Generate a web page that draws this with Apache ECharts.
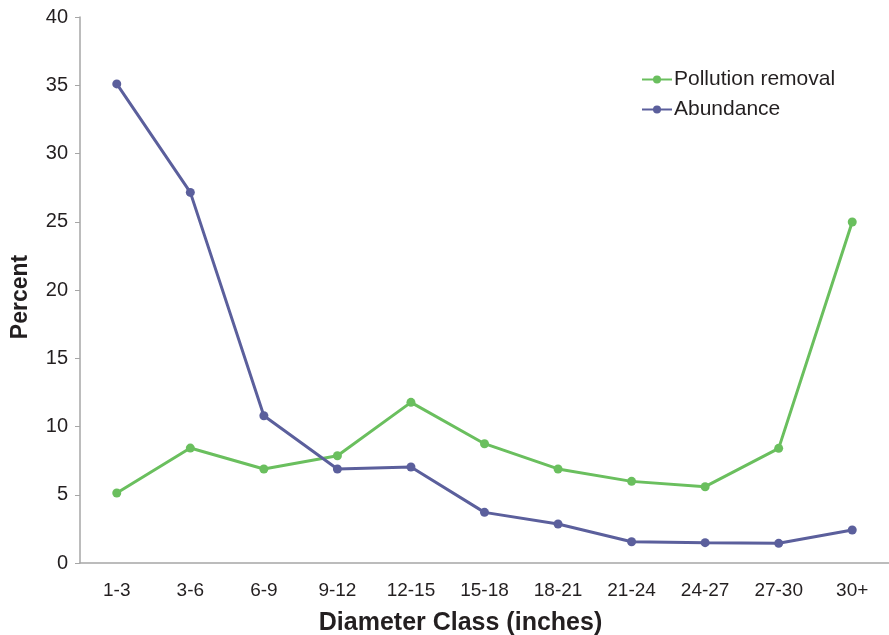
<!DOCTYPE html>
<html lang="en">

<head>
    <meta charset="UTF-8">
    <title>Diameter Class - Pollution removal and Abundance</title>
    <script src="https://cdn.jsdelivr.net/npm/echarts@6.0.0/dist/echarts.min.js"></script>
    <style>
        body { margin: 0; background: #fff; }
    </style>
</head>

<body>
    <div id="main" style="width: 889px; height: 635px;"></div>

    <script type="text/javascript">
        // Chart data
        const categories = ['1-3', '3-6', '6-9', '9-12', '12-15', '15-18', '18-21', '21-24', '24-27', '27-30', '30+'];
        const pollutionRemoval = [5.13, 8.42, 6.89, 7.86, 11.77, 8.74, 6.89, 5.98, 5.59, 8.40, 24.98];
        const abundance = [35.1, 27.15, 10.79, 6.89, 7.03, 3.71, 2.86, 1.56, 1.49, 1.44, 2.42];

        const green = '#6abf5e';
        const blue = '#5b5f9c';
        const axisGrey = '#a6a6a6';
        const textColor = '#231f20';
        const font = "'Liberation Sans', Arial, sans-serif";

        let myChart = echarts.init(document.getElementById('main'));

        let options = {
            animation: false,
            backgroundColor: '#fff',
            grid: {
                left: 80,
                right: 0,
                top: 17,
                bottom: 72,
                outerBoundsMode: 'none'
            },
            legend: {
                orient: 'vertical',
                left: 641,
                top: 69,
                padding: 0,
                itemWidth: 30,
                itemHeight: 10,
                itemGap: 9,
                textStyle: {
                    fontFamily: font,
                    fontSize: 21,
                    color: textColor,
                    padding: [0, 0, 0, -3]
                },
                data: ['Pollution removal', 'Abundance']
            },
            xAxis: {
                type: 'category',
                data: categories,
                boundaryGap: true,
                name: 'Diameter Class (inches)',
                nameLocation: 'middle',
                nameGap: 48,
                nameTextStyle: {
                    fontFamily: font,
                    fontSize: 25,
                    fontWeight: 'bold',
                    color: textColor,
                    padding: [0, 48, 0, 0]
                },
                axisLine: { lineStyle: { color: axisGrey, width: 1.5 } },
                axisTick: { length: 6, inside: false, lineStyle: { color: axisGrey } },
                axisLabel: {
                    fontFamily: font,
                    fontSize: 19,
                    color: textColor,
                    margin: 18,
                    interval: 0
                },
                splitLine: { show: false }
            },
            yAxis: {
                type: 'value',
                min: 0,
                max: 40,
                interval: 5,
                name: 'Percent',
                nameLocation: 'middle',
                nameGap: 48,
                nameTextStyle: {
                    fontFamily: font,
                    fontSize: 23,
                    fontWeight: 'bold',
                    color: textColor,
                    padding: [0, 14, 0, 0]
                },
                axisLine: { show: true, lineStyle: { color: axisGrey, width: 1.5 } },
                axisTick: { show: true, length: 5, lineStyle: { color: axisGrey } },
                axisLabel: {
                    fontFamily: font,
                    fontSize: 20,
                    color: textColor,
                    margin: 12
                },
                splitLine: { show: false }
            },
            series: [
                {
                    name: 'Pollution removal',
                    type: 'line',
                    data: pollutionRemoval,
                    symbol: 'circle',
                    symbolSize: 9,
                    color: green,
                    lineStyle: { width: 3, color: green },
                    itemStyle: { color: green }
                },
                {
                    name: 'Abundance',
                    type: 'line',
                    data: abundance,
                    symbol: 'circle',
                    symbolSize: 9,
                    color: blue,
                    lineStyle: { width: 3, color: blue },
                    itemStyle: { color: blue }
                }
            ]
        };

        myChart.setOption(options);
    </script>
</body>

</html>
